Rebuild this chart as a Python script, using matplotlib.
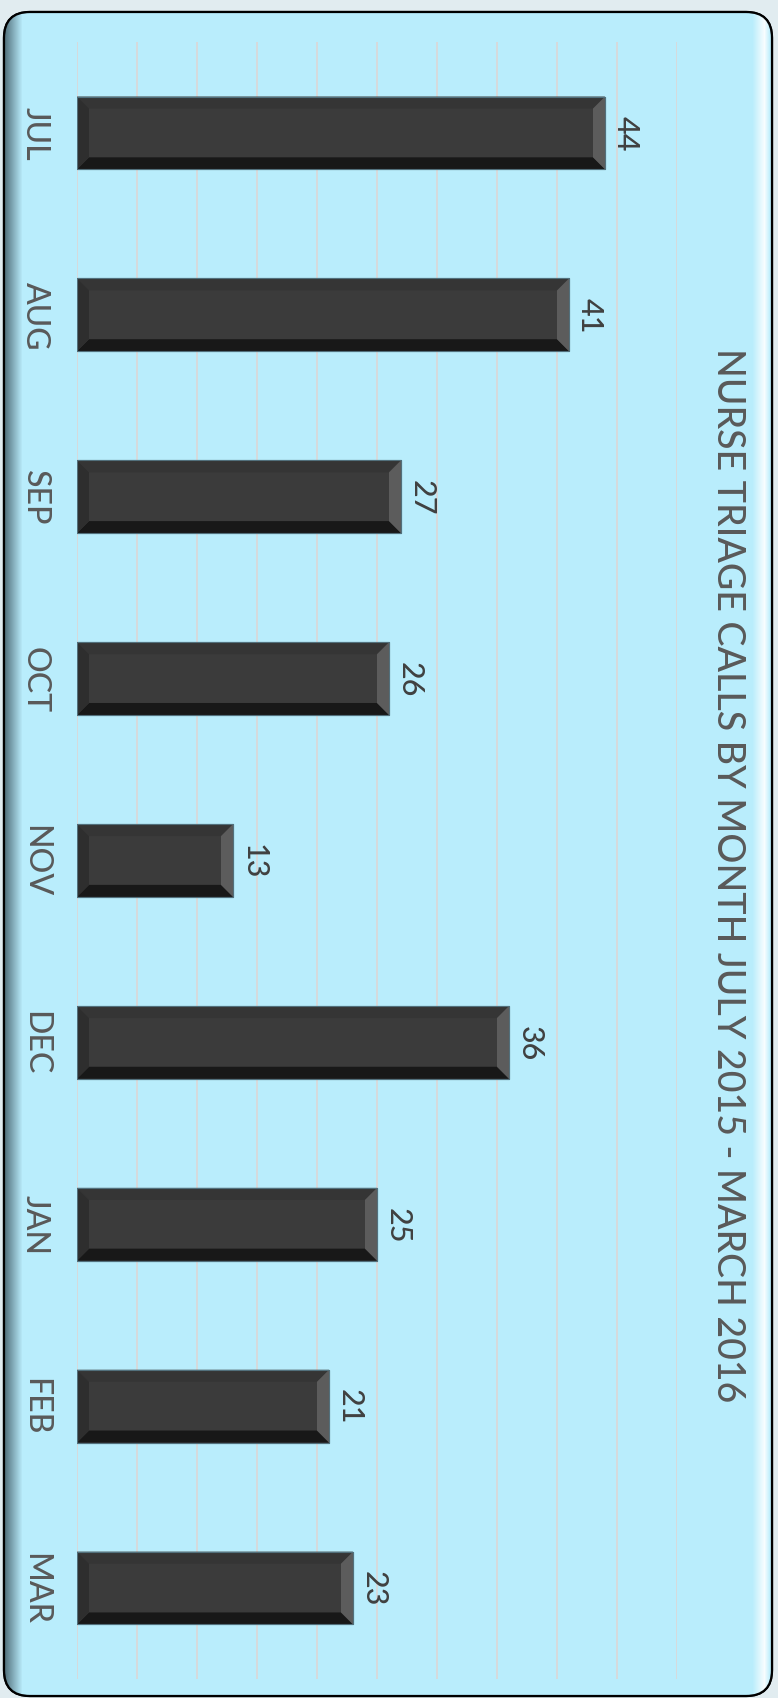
import numpy as np
import matplotlib
matplotlib.use("Agg")
import matplotlib.pyplot as plt
from matplotlib.patches import FancyBboxPatch, Polygon

months = ["JUL", "AUG", "SEP", "OCT", "NOV", "DEC", "JAN", "FEB", "MAR"]
calls = [44, 41, 27, 26, 13, 36, 25, 21, 23]
title = "NURSE TRIAGE CALLS BY MONTH JULY 2015 - MARCH 2016"

W, H = 778, 1699
plt.rcParams['font.family'] = ['Lato', 'DejaVu Sans']
plt.rcParams['font.weight'] = 'medium'

fig = plt.figure(figsize=(W / 100, H / 100), dpi=100)
fig.patch.set_facecolor('#E1ECF0')

# background panel, drawn in pixel units
bg = fig.add_axes([0, 0, 1, 1], zorder=0)
bg.set_xlim(0, W)
bg.set_ylim(H, 0)
bg.axis('off')
panel = FancyBboxPatch((4, 13), W - 10, H - 15, boxstyle="round,pad=0,rounding_size=26",
                       facecolor='#B9EDFC', edgecolor='black', lw=1.6, zorder=1)
bg.add_patch(panel)

# edge shading: dark on the left, white highlight on the right
panel_rgb = np.array([185, 237, 252]) / 255
dark = np.array([80, 110, 122]) / 255
white = np.array([1.0, 1.0, 1.0])
cols = np.tile(panel_rgb, (W, 1))
for x in range(W):
    if x < 22:
        t = (x - 4) / 18
        t = min(max(t, 0), 1)
        cols[x] = dark * (1 - t) + panel_rgb * t
    elif 752 <= x < 764:
        t = (x - 752) / 12
        cols[x] = panel_rgb * (1 - t) + white * t * 0.9 + panel_rgb * t * 0.1
    elif x >= 764:
        t = min((x - 764) / 6, 1)
        cols[x] = white * (1 - t) * 0.9 + panel_rgb * (0.1 + 0.9 * t)
grad = bg.imshow(cols[None, :, :], extent=(0, W, H, 0), aspect='auto', zorder=1.5)
grad.set_clip_path(panel)
edge = FancyBboxPatch((4, 13), W - 10, H - 15, boxstyle="round,pad=0,rounding_size=26",
                      facecolor='none', edgecolor='black', lw=1.6, zorder=2)
bg.add_patch(edge)

# chart axes
ax = fig.add_axes([77 / W, 19 / H, 600 / W, 1637 / H], zorder=2)
ax.patch.set_alpha(0)
ypos = np.arange(len(months))
bars = ax.barh(ypos, calls, height=0.4, color='#3B3B3B', edgecolor='#52707C', lw=0.8, zorder=3)
ax.set_xlim(0, 50)
ax.set_ylim(len(months) - 0.5, -0.5)
ax.set_xticks(np.arange(0, 51, 5))
ax.grid(axis='x', color='#D9D9D9', lw=1.3, zorder=0)
ax.set_yticks([])
ax.tick_params(axis='x', length=0, labelbottom=False)
for s in ax.spines.values():
    s.set_visible(False)

# bevel effect on each bar
d, e = 1.0, 0.066
for b in bars:
    x0, y0 = b.get_x(), b.get_y()
    x1, y1 = x0 + b.get_width(), y0 + b.get_height()
    faces = [
        ([(x0, y0), (x1, y0), (x1 - d, y0 + e), (x0 + d, y0 + e)], '#353535'),
        ([(x0, y1), (x1, y1), (x1 - d, y1 - e), (x0 + d, y1 - e)], '#181818'),
        ([(x0, y0), (x0 + d, y0 + e), (x0 + d, y1 - e), (x0, y1)], '#2E2E2E'),
        ([(x1, y0), (x1 - d, y0 + e), (x1 - d, y1 - e), (x1, y1)], '#5C5C5C'),
    ]
    for pts, c in faces:
        ax.add_patch(Polygon(pts, closed=True, facecolor=c, edgecolor='none', zorder=4))
    ax.add_patch(Polygon([(x0, y0), (x1, y0), (x1, y1), (x0, y1)], closed=True,
                         facecolor='none', edgecolor='#52707C', lw=0.8, zorder=5))

# value labels
for b, v in zip(bars, calls):
    ax.annotate(str(v), (b.get_width(), b.get_y() + b.get_height() / 2),
                xytext=(15, 0), textcoords='offset points', rotation=270,
                ha='center', va='center', fontsize=22, color='#404040', zorder=6)

# category labels
for y, m in zip(ypos, months):
    ax.text(-0.07, y, m, transform=ax.get_yaxis_transform(), rotation=270,
            ha='center', va='center', fontsize=23, color='#595959')

fig.text(727 / W, 1 - 875 / H, title, rotation=270, ha='center', va='center',
         fontsize=27, color='#595959')

fig.savefig('out.png', dpi=100, facecolor=fig.get_facecolor())
